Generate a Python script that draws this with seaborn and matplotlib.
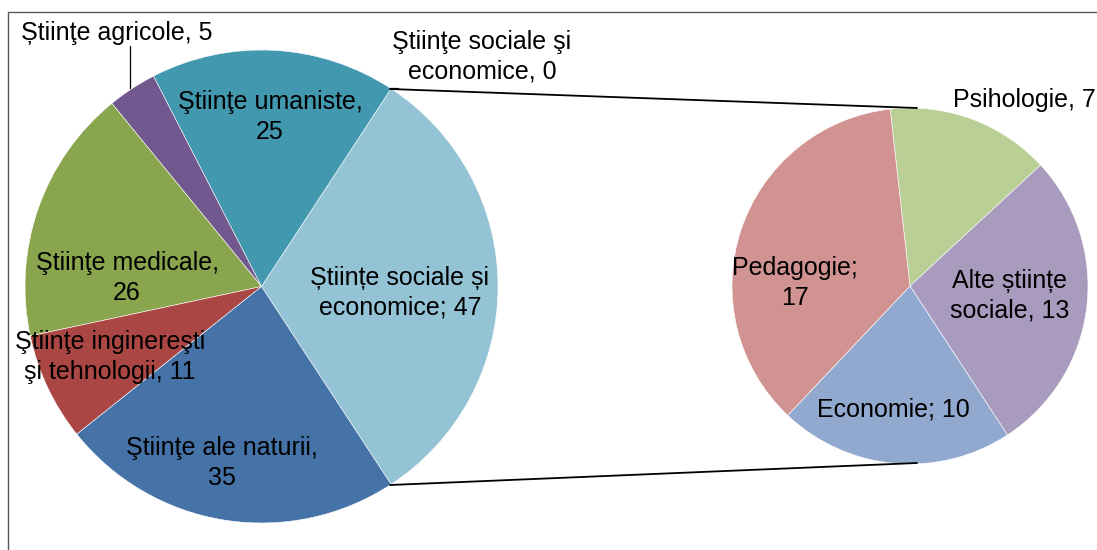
import matplotlib
matplotlib.use("Agg")
import matplotlib.pyplot as plt
import seaborn as sns

# ---- data ----
main_labels = ["Ştiinţe sociale şi\neconomice", "Ştiinţe umaniste,\n", "Știinţe agricole, ",
               "Ştiinţe medicale,\n", "Ştiinţe inginereşti\nşi tehnologii, ", "Ştiinţe ale naturii,\n"]
main_values = [47, 25, 5, 26, 11, 35]
main_colors = ["#93C3D5", "#4198AF", "#71588F", "#89A54E", "#AA4643", "#4572A7"]

sub_labels = ["Psihologie, ", "Alte ştiinţe\nsociale, ", "Economie; ", "Pedagogie;\n"]
sub_values = [7, 13, 10, 17]
sub_colors = ["#B9CF96", "#A99BBD", "#92A9CF", "#D09392"]
other_label = "Ştiinţe sociale şi\neconomice, "
other_value = 0

# ---- layout (pixel coords, y from top) ----
W, H = 1097, 550
main_c, main_r = (261.5, 286.5), 236.5
sub_c, sub_r = (910.0, 286.0), 178.0
main_label_pos = [(400, 293), (270, 117), (117, 33), (127, 278), (110, 357), (222, 463)]
sub_label_pos = [(1024, 100), (1010, 296), (893, 410), (795, 283)]
other_pos = (482, 57)

sns.set_theme(style="white")
plt.rcParams['font.family'] = ['Liberation Sans', 'DejaVu Sans']

fig = plt.figure(figsize=(W / 100, H / 100), dpi=100)
ax = fig.add_axes([0, 0, 1, 1])

def fy(y):
    return H - y

tot = sum(main_values)
start = -360 * main_values[0] / tot / 2
ax.pie(main_values, colors=main_colors, center=(main_c[0], fy(main_c[1])), radius=main_r,
       startangle=start, counterclock=True, frame=True,
       wedgeprops=dict(linewidth=0.4, edgecolor="white"))
ax.pie(sub_values, colors=sub_colors, center=(sub_c[0], fy(sub_c[1])), radius=sub_r,
       startangle=96.4, counterclock=False, frame=True,
       wedgeprops=dict(linewidth=0.4, edgecolor="white"))
ax.set_xlim(0, W)
ax.set_ylim(0, H)
ax.set_aspect('equal')
ax.axis('off')

fs = 18
ls = 1.3
for lab, v, (x, y) in zip(main_labels, main_values, main_label_pos):
    if lab.endswith("economice"):
        txt = "Științe sociale și\neconomice; " + str(v)
    else:
        txt = lab + str(v)
    ax.text(x, fy(y), txt, ha='center', va='center', fontsize=fs, color='black', linespacing=ls)
for lab, v, (x, y) in zip(sub_labels, sub_values, sub_label_pos):
    txt = lab + str(v)
    if lab.startswith("Alte"):
        txt = "Alte științe\nsociale, " + str(v)
    ax.text(x, fy(y), txt, ha='center', va='center', fontsize=fs, color='black', linespacing=ls)
ax.text(other_pos[0], fy(other_pos[1]), other_label + str(other_value), ha='center', va='center',
        fontsize=fs, color='black', linespacing=ls)

# leader lines
ax.plot([130, 130], [fy(46), fy(88)], color='black', lw=0.9)
ax.plot([390, 398], [fy(88), fy(88)], color='black', lw=0.9)

# connector lines
ax.plot([390, 917], [fy(89), fy(108)], color='black', lw=1.3)
ax.plot([390, 917], [fy(485), fy(463)], color='black', lw=1.3)

# chart frame
ax.plot([8, 8, W + 5], [-5, fy(12), fy(12)], color='#595959', lw=1.0, clip_on=False)

fig.savefig("out.png", dpi=100)
